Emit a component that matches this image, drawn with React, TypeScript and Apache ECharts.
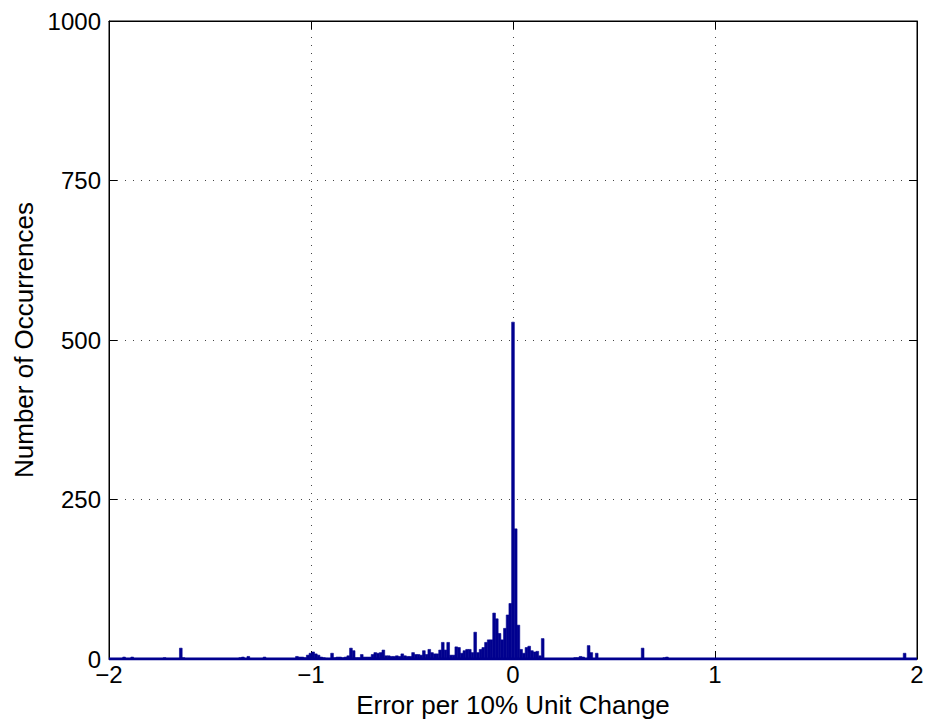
import React, { useEffect, useRef } from "react";
import * as echarts from "echarts";

// Histogram bins: bin index (relative to the bin centred at 0) and count
const binWidth = 0.01337;
const binIdx = [
  -144, -141, -129, -123, -122, -101, -100, -98, -92, -80, -79, -78, -77, -76, -75, -74, -73, -72, -71, -70,
  -69, -67, -66, -65, -64, -63, -62, -61, -60, -59, -58, -57, -56, -55, -54, -53, -52, -51, -50, -49,
  -48, -47, -46, -45, -44, -43, -42, -41, -40, -39, -38, -37, -36, -35, -34, -33, -32, -31, -30, -29,
  -28, -27, -26, -25, -24, -23, -22, -21, -20, -19, -18, -17, -16, -15, -14, -13, -12, -11, -10, -9,
  -8, -7, -6, -5, -4, -3, -2, -1, 0, 1, 2, 3, 4, 5, 6, 7, 8, 9, 10, 11,
  23, 24, 25, 26, 28, 29, 31, 48, 56, 57, 145,
];
const counts = [
  3, 3, 2, 17, 2, 2, 3, 4, 3, 4, 3, 3, 2, 6, 9, 11, 8, 6, 3, 2,
  1, 9, 2, 3, 3, 2, 3, 5, 17, 13, 2, 2, 7, 3, 3, 3, 7, 10, 9, 10,
  14, 5, 5, 4, 4, 5, 4, 8, 5, 4, 4, 10, 7, 7, 6, 13, 7, 15, 10, 8,
  8, 14, 26, 14, 26, 6, 6, 19, 18, 9, 13, 15, 15, 10, 42, 10, 15, 18, 26, 30,
  30, 72, 63, 40, 30, 48, 69, 87, 528, 204, 53, 15, 9, 18, 20, 13, 11, 12, 5, 32,
  2, 2, 4, 3, 21, 10, 9, 17, 2, 3, 9,
];
const xTicks = [-2, -1, 0, 1, 2];
const yTicks = [0, 250, 500, 750, 1000];
const baseline = [
  [-2, 0],
  [2, 0],
];

const FONT = "'Liberation Sans', Arial, Helvetica, sans-serif";
const BAR = "#00008F";

const fmtX = (v: number) => (v < 0 ? "\u2212" + Math.abs(v) : String(v));
const fmtY = (v: number) => String(v);

export default function App() {
  const ref = useRef<HTMLDivElement>(null);
  useEffect(() => {
    if (!ref.current) return;
    const chart = echarts.init(ref.current, undefined, { renderer: "svg" });
    const data = binIdx.map((k, i) => [k * binWidth, counts[i]]);
    const xMin = xTicks[0];
    const xMax = xTicks[xTicks.length - 1];
    const yMin = yTicks[0];
    const yMax = yTicks[yTicks.length - 1];
    const tickStyle = { show: true, inside: true, length: 8, lineStyle: { color: "#000", width: 1 } };
    const lineStyle = { show: true, onZero: false, lineStyle: { color: "#000", width: 1 } };
    chart.setOption({
      animation: false,
      backgroundColor: "#fff",
      grid: {
        left: 109,
        right: 10,
        top: 21,
        bottom: 67,
        show: true,
        borderColor: "#000",
        borderWidth: 1,
      },
      xAxis: [
        {
          type: "value",
          min: xMin,
          max: xMax,
          interval: 1,
          position: "bottom",
          name: "Error per 10% Unit Change",
          nameLocation: "middle",
          nameGap: 33,
          nameTextStyle: { fontFamily: FONT, fontSize: 26, color: "#000" },
          axisLine: lineStyle,
          axisTick: tickStyle,
          axisLabel: { fontFamily: FONT, fontSize: 24, color: "#000", margin: 3, formatter: fmtX },
          splitLine: { show: true, lineStyle: { color: "#444", type: [1, 7], width: 1 } },
        },
        {
          type: "value",
          min: xMin,
          max: xMax,
          interval: 1,
          position: "top",
          axisLine: lineStyle,
          axisTick: tickStyle,
          axisLabel: { show: false },
          splitLine: { show: false },
        },
      ],
      yAxis: [
        {
          type: "value",
          min: yMin,
          max: yMax,
          interval: 250,
          position: "left",
          name: "Number of Occurrences",
          nameLocation: "middle",
          nameGap: 61,
          nameTextStyle: { fontFamily: FONT, fontSize: 26, color: "#000" },
          axisLine: lineStyle,
          axisTick: tickStyle,
          axisLabel: { fontFamily: FONT, fontSize: 24, color: "#000", margin: 8, formatter: fmtY },
          splitLine: { show: true, lineStyle: { color: "#444", type: [1, 7], width: 1 } },
        },
        {
          type: "value",
          min: yMin,
          max: yMax,
          interval: 250,
          position: "right",
          axisLine: lineStyle,
          axisTick: tickStyle,
          axisLabel: { show: false },
          splitLine: { show: false },
        },
      ],
      series: [
        {
          type: "line",
          xAxisIndex: 0,
          yAxisIndex: 0,
          data: baseline,
          symbol: "none",
          lineStyle: { color: BAR, width: 3 },
          z: 2,
        },
        {
          type: "custom",
          xAxisIndex: 0,
          yAxisIndex: 0,
          data,
          z: 3,
          renderItem: (params: any, api: any) => {
            const c = api.value(0);
            const v = api.value(1);
            const p0 = api.coord([c - binWidth / 2, v]);
            const p1 = api.coord([c + binWidth / 2, 0]);
            return {
              type: "rect",
              shape: { x: p0[0], y: p0[1], width: p1[0] - p0[0], height: p1[1] - p0[1] },
              style: { fill: BAR, stroke: BAR, lineWidth: 0.6 },
            };
          },
        },
      ],
    });
    return () => chart.dispose();
  }, []);
  return (
    <div
      ref={ref}
      style={{ position: "fixed", left: 0, top: 0, width: 927, height: 726 }}
    />
  );
}
